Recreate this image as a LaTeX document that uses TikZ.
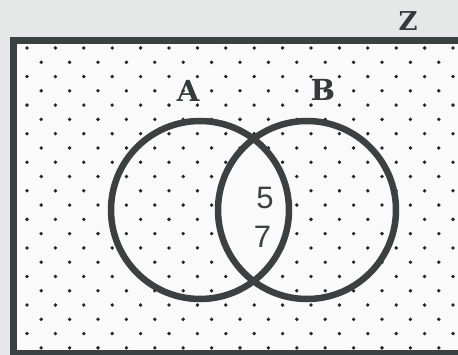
\documentclass[tikz,border=0pt]{standalone}
\usepackage{fontspec}
\newfontfamily\labfont{DejaVu Serif}
\newfontfamily\numfont{Liberation Sans}
\definecolor{bg}{HTML}{E6E8E8}
\definecolor{ink}{HTML}{3B4040}
\definecolor{paper}{HTML}{FAFAFA}
\tikzset{
  setcircle/.style={draw=ink, line width=6.5pt},
  setlabel/.style={inner sep=0pt, font=\labfont\bfseries\fontsize{29}{29}\selectfont, text=ink!90!black},
  numlabel/.style={inner sep=0pt, font=\numfont\fontsize{31}{31}\selectfont, text=ink},
  dotmark/.style={fill=black!85}
}
\begin{document}
\begin{tikzpicture}[x=1pt,y=-1pt]
\useasboundingbox (0,0) rectangle (458,355);
\fill[bg] (0,0) rectangle (458,355);
% frame
\fill[ink] (10,37) rectangle (458,355);
\fill[paper] (17,44) rectangle (458,350);
% dots
\foreach \i in {0,...,21}{
  \pgfmathsetmacro{\yy}{48+14.28*\i}
  \pgfmathsetmacro{\xs}{ifthenelse(mod(\i,2)==0,27,41.2)}
  \foreach \k in {0,...,15}{
    \pgfmathsetmacro{\xx}{\xs+28.4*\k}
    \pgfmathparse{\xx<456 ? 1 : 0}
    \ifnum\pgfmathresult=1
      \fill[dotmark] (\xx,\yy) circle (1.9pt);
    \fi
  }
}
% clear the lens
\begin{scope}
  \clip (200,210) circle (89);
  \fill[paper] (307,210) circle (89);
\end{scope}
% circles
\node[setcircle, circle, minimum size=178pt, inner sep=0pt] (A) at (200,210) {};
\node[setcircle, circle, minimum size=178pt, inner sep=0pt] (B) at (307,210) {};
% labels
\node[setlabel] (la) at (188,91) {A};
\node[setlabel] (lb) at (323,90) {B};
\node[setlabel, font=\labfont\bfseries\fontsize{26}{26}\selectfont] (lz) at (408,21) {Z};
\node[numlabel] (n5) at (265,197.5) {5};
\node[numlabel] (n7) at (262.5,236.5) {7};
\end{tikzpicture}
\end{document}
